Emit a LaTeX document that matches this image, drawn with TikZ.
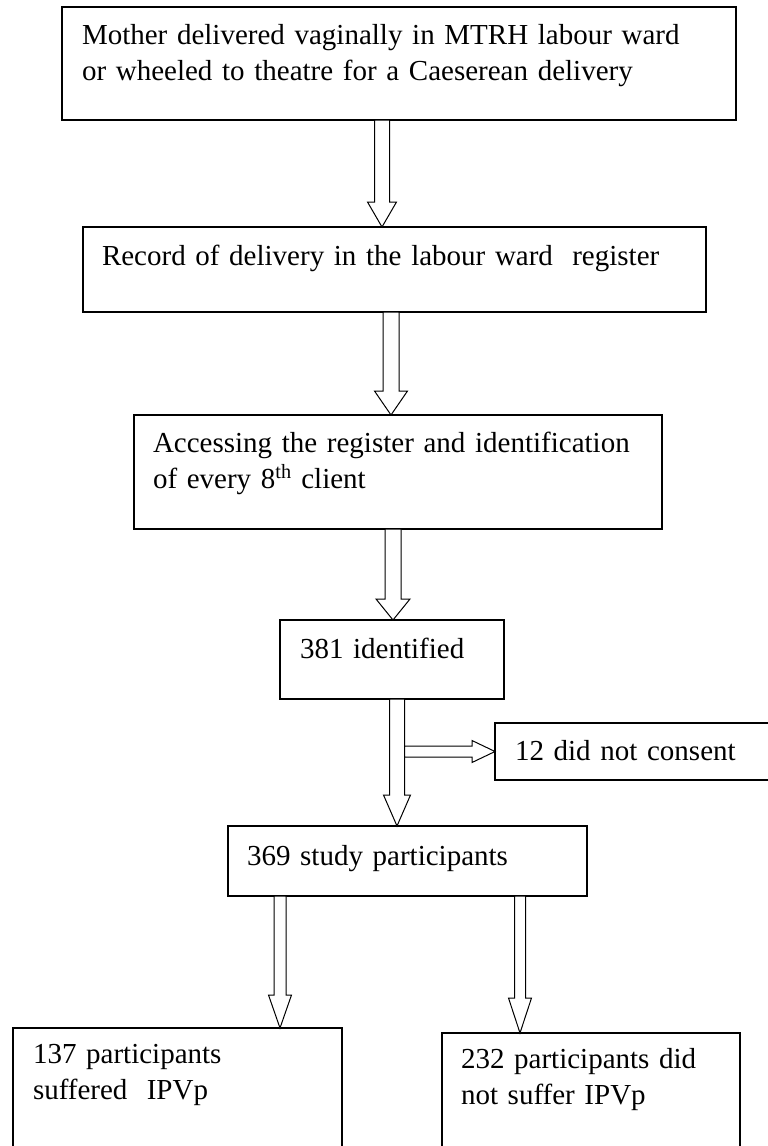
\documentclass[tikz,border=0pt]{standalone}
\usepackage{fontspec}
\setmainfont{Liberation Serif}
\usetikzlibrary{calc}
\hyphenpenalty=10000

% hollow block arrow downwards: x, from, to, shaft half, head half, head length
\newcommand{\downblock}[6]{%
  \draw[blockarr] let \p1=(#2), \p2=(#3) in
    (#1pt-#4pt,\y1) -- (#1pt+#4pt,\y1) -- (#1pt+#4pt,\y2+#6pt)
    -- (#1pt+#5pt,\y2+#6pt) -- (#1pt,\y2) -- (#1pt-#5pt,\y2+#6pt)
    -- (#1pt-#4pt,\y2+#6pt) -- cycle;}

\begin{document}
\begin{tikzpicture}[x=1pt, y=-1pt,
  box/.style={draw, line width=1.2pt, anchor=north west, outer sep=0pt,
    inner xsep=19pt, inner ysep=0pt, align=left,
    font=\fontsize{29}{36}\selectfont},
  blockarr/.style={draw, fill=white, line width=1pt}
]
  \useasboundingbox (0,0) rectangle (768,1146);
  \clip (0,0) rectangle (768,1146);

  \node[box, inner xsep=20pt, text width=634pt, text height=37pt, text depth=76pt] (mother) at (62,7)
    {Mother delivered vaginally in MTRH labour ward\\or wheeled to theatre for a Caeserean delivery};
  \node[box, text width=585pt, text height=38pt, text depth=47pt] (record) at (83,227)
    {Record of delivery in the labour ward~ register};
  \node[box, text width=490pt, text height=37pt, text depth=77pt] (access) at (134,415)
    {\mbox{Accessing the register and identification}\\of every 8\textsuperscript{th} client};
  \node[box, inner xsep=20pt, text width=184pt, text height=38pt, text depth=41pt] (ident) at (280,620)
    {381 identified};
  \node[box, inner xsep=20pt, text width=300pt, text height=37pt, text depth=20pt] (noconsent) at (495,723)
    {12 did not consent};
  \node[box, text width=321pt, text height=39pt, text depth=31pt] (study) at (228,826)
    {369 study participants};
  \node[box, inner xsep=20pt, text width=289pt, text height=35pt, text depth=120pt] (ipv) at (13,1028)
    {137 participants\\suffered~ IPVp};
  \node[box, text width=260pt, text height=35pt, text depth=120pt] (noipv) at (442,1033)
    {232 participants did\\not suffer IPVp};

  \downblock{382}{mother.south}{record.north}{7.5}{14.5}{25}
  \downblock{391}{record.south}{access.north}{8}{16.5}{24}
  \downblock{393}{access.south}{ident.north}{8}{17}{21}
  \downblock{397}{ident.south}{study.north}{7.5}{13.5}{31}
  \draw[blockarr] let \p1=(noconsent.west) in
    (404.5pt,\y1+5.5pt) -- (\x1-23pt,\y1+5.5pt) -- (\x1-23pt,\y1+11pt) -- (\x1,\y1)
    -- (\x1-23pt,\y1-11pt) -- (\x1-23pt,\y1-5.5pt) -- (404.5pt,\y1-5.5pt) -- cycle;
  \downblock{280}{study.south}{ipv.north}{6}{11.5}{33}
  \downblock{520}{study.south}{noipv.north}{5.5}{11.5}{35}
\end{tikzpicture}
\end{document}
